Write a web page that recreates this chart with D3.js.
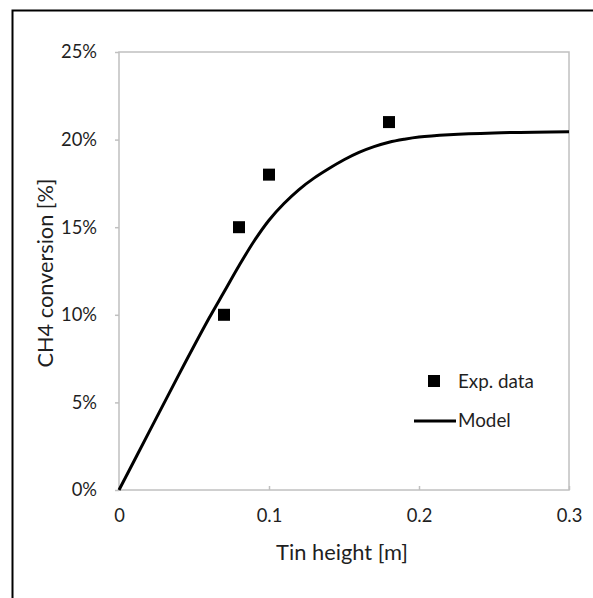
<!DOCTYPE html>
<html>
<head>
<meta charset="utf-8">
<script src="https://cdn.jsdelivr.net/npm/d3@7"></script>
<style>
  body { margin: 0; background: #fff; }
  svg text { font-family: Lato, "Open Sans", sans-serif; fill: #1f1f1f; }
</style>
</head>
<body>
<svg id="vis" width="593" height="598"></svg>
<script>
// experimental points (tin height in m, conversion as fraction)
var expHeight = [0.07, 0.08, 0.10, 0.18];
var expConv = [0.10, 0.15, 0.18, 0.21];

// model curve
var modelHeight = [0, 0.02, 0.04, 0.06, 0.07, 0.08, 0.09, 0.10, 0.11, 0.12, 0.13, 0.14, 0.15, 0.16, 0.17, 0.18, 0.19, 0.20, 0.22, 0.25, 0.30];
var modelConv = [0, 0.033, 0.066, 0.098, 0.113, 0.128, 0.142, 0.154, 0.1635, 0.1715, 0.178, 0.1835, 0.1885, 0.1927, 0.196, 0.1985, 0.2002, 0.2015, 0.2028, 0.2038, 0.2045];

var xTicks = [0, 0.1, 0.2, 0.3];
var yTicks = [0, 0.05, 0.10, 0.15, 0.20, 0.25];

var svg = d3.select('#vis');

// scale a text's font so it spans the given width
function fitWidth(sel, width) {
    sel.style('font-size', '20px');
    var w = sel.node().getComputedTextLength();
    var size = 20 * width / w;
    sel.style('font-size', size + 'px');
    return size;
}

// outer frame, only left and top are in view
svg.append('path')
    .attr('d', 'M12.5,598V10.5H593')
    .attr('fill', 'none')
    .attr('stroke', '#000')
    .attr('stroke-width', 2);

var x = d3.scaleLinear().domain([0, 0.3]).range([119, 569]);
var y = d3.scaleLinear().domain([0, 0.25]).range([490, 52]);
var axisColor = '#c0c0c0';

// plot box
svg.append('rect')
    .attr('x', x(0)).attr('y', y(0.25))
    .attr('width', x(0.3) - x(0)).attr('height', y(0) - y(0.25))
    .attr('fill', 'none')
    .attr('stroke', axisColor)
    .attr('stroke-width', 1.5);

var yAxis = svg.append('g')
    .attr('transform', 'translate(' + x(0) + ',0)')
    .call(d3.axisLeft(y).tickValues(yTicks).tickSize(4).tickPadding(18)
        .tickFormat(function(d) { return Math.round(d * 100) + '%'; }));

var xAxis = svg.append('g')
    .attr('transform', 'translate(0,' + y(0) + ')')
    .call(d3.axisBottom(x).tickValues(xTicks).tickSize(-4).tickPadding(19)
        .tickFormat(function(d) { return d === 0 ? '0' : d3.format('.1f')(d); }));

// tick font sized so "25%" is about 36px wide
var tickSize = fitWidth(yAxis.selectAll('text').filter(function(d) { return d === 0.25; }), 36);

[xAxis, yAxis].forEach(function(a) {
    a.select('.domain').remove();
    a.selectAll('line').attr('stroke', axisColor).attr('stroke-width', 1.5);
    a.selectAll('text').style('font-size', tickSize + 'px').attr('fill', '#1f1f1f');
});

// model line
var line = d3.line()
    .x(function(d) { return x(d[0]); })
    .y(function(d) { return y(d[1]); })
    .curve(d3.curveCatmullRom);

svg.append('path')
    .datum(d3.zip(modelHeight, modelConv))
    .attr('d', line)
    .attr('fill', 'none')
    .attr('stroke', '#000')
    .attr('stroke-width', 3);

// experimental data
var sz = 12;
svg.selectAll('rect.pt')
    .data(d3.zip(expHeight, expConv))
    .enter().append('rect')
    .attr('class', 'pt')
    .attr('x', function(d) { return x(d[0]) - sz / 2; })
    .attr('y', function(d) { return y(d[1]) - sz / 2; })
    .attr('width', sz).attr('height', sz)
    .attr('fill', '#000');

// legend
svg.append('rect')
    .attr('x', 434 - sz / 2).attr('y', 381 - sz / 2)
    .attr('width', sz).attr('height', sz)
    .attr('fill', '#000');
var legSize = fitWidth(svg.append('text').attr('x', 458).attr('y', 381).attr('dy', '0.35em')
    .text('Exp. data'), 76);
svg.append('line')
    .attr('x1', 414).attr('x2', 456).attr('y1', 421).attr('y2', 421)
    .attr('stroke', '#000').attr('stroke-width', 3);
svg.append('text').attr('x', 458).attr('y', 420).attr('dy', '0.35em')
    .style('font-size', legSize + 'px').text('Model');

// axis titles
fitWidth(svg.append('text')
    .attr('x', 342).attr('y', 552).attr('dy', '0.35em')
    .attr('text-anchor', 'middle')
    .text('Tin height [m]'), 132);

fitWidth(svg.append('text')
    .attr('transform', 'translate(45,273) rotate(-90)')
    .attr('dy', '0.35em')
    .attr('text-anchor', 'middle')
    .text('CH4 conversion [%]'), 189);
</script>
</body>
</html>
